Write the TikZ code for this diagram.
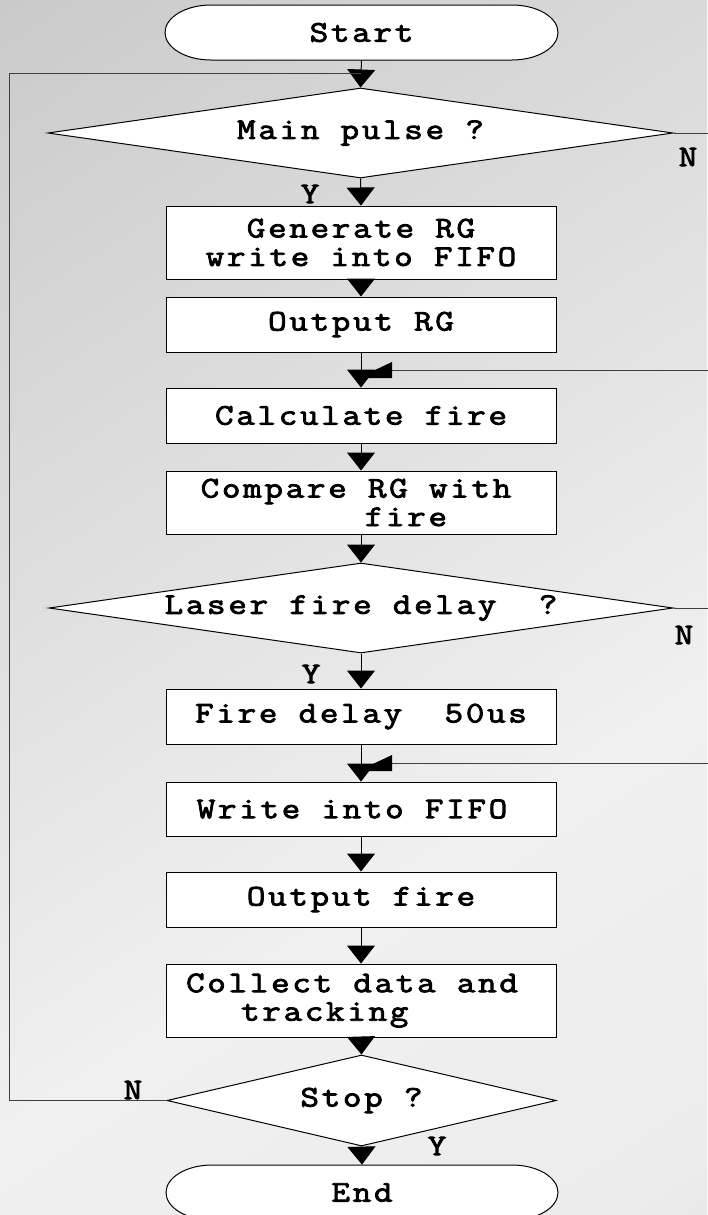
\documentclass[tikz,border=0pt]{standalone}
\usepackage{fontspec}
\usetikzlibrary{shapes.geometric,arrows.meta,calc}
\newfontfamily\fcmono[LetterSpace=9, FakeStretch=1.2, FakeBold=2.8]{Latin Modern Mono}
\definecolor{gA}{HTML}{A8A8A8}
\definecolor{gB}{HTML}{CCCCCC}
\definecolor{gC}{HTML}{F0F0F0}
\definecolor{gD}{HTML}{ECECEC}
\definecolor{gE}{HTML}{B8B8B8}
\pgfdeclareverticalshading{bgsh}{100bp}{color(0bp)=(gE); color(27bp)=(gD); color(41bp)=(gC); color(73bp)=(gB); color(100bp)=(gA)}
\begin{document}
\begin{tikzpicture}[x=0.5pt,y=-0.5pt,
  every node/.style={font=\fcmono\fontsize{15pt}{14.25pt}\selectfont, inner sep=0pt},
  box/.style={rectangle, draw=black, line width=0.5pt, fill=white, minimum width=195pt},
  dec/.style={diamond, draw=black, line width=0.5pt, fill=white, inner sep=0pt},
  term/.style={draw=black, line width=0.5pt, fill=white},
  arr/.style={draw=black, line width=0.5pt, -{Triangle[width=14pt,length=9pt]}},
  loopline/.style={draw=black!75, line width=0.5pt},
  headfill/.style={fill=black}]
\useasboundingbox (0,0) rectangle (707,1215);
\begin{scope}
  \clip (0,0) rectangle (707,1215);
  \begin{scope}[transform canvas={rotate around={32.5:(353.5,607.5)}}]
    \shade[shading=bgsh] (-356.5,-102.5) rectangle (1063.5,1317.5);
  \end{scope}
\end{scope}
% terminals
\coordinate (sc) at (361.5,32.5);
\coordinate (ec) at (362,1192.5);
\path[term] ($(sc)+(-150.5,-27.5)$) -- ($(sc)+(150.5,-27.5)$)
  arc[start angle=-90, end angle=90, x radius=46, y radius=27.5]
  -- ($(sc)+(-150.5,27.5)$)
  arc[start angle=90, end angle=270, x radius=46, y radius=27.5] -- cycle;
\path[term] ($(ec)+(-150,-27.5)$) -- ($(ec)+(150,-27.5)$)
  arc[start angle=-90, end angle=90, x radius=46, y radius=27.5]
  -- ($(ec)+(-150,27.5)$)
  arc[start angle=90, end angle=270, x radius=46, y radius=27.5] -- cycle;
\node[minimum width=196.5pt, minimum height=27.5pt] (start) at (sc) {Start};
\node[minimum width=196pt, minimum height=27.5pt] (end) at (ec) {End};
% process nodes
\node[dec, aspect=7, minimum width=312.5pt, minimum height=45pt] (main) at (360.5,133) {Main pulse ?};
\node[box, minimum height=36.5pt, align=center] (gen) at (361,242.5) {Generate RG\\write into FIFO};
\node[box, minimum height=27.5pt] (outrg) at (361,324.5) {Output RG};
\node[box, minimum height=27.5pt] (calc) at (361,415.5) {Calculate fire};
\node[box, minimum height=31.5pt, align=left] (cmp) at (361,502.5) {Compare RG with\hspace*{5pt}\\\hspace*{82pt}fire};
\node[dec, aspect=7, minimum width=312pt, minimum height=45pt] (laser) at (361,608) {Laser fire delay\ \ ?};
\node[box, minimum height=27.5pt] (fdel) at (361,716.5) {Fire delay\ \ 50us};
\node[box, minimum height=27pt] (wfifo) at (361,809) {Write into FIFO\hspace*{9pt}};
\node[box, minimum height=27.5pt] (outf) at (361,899.5) {Output fire};
\node[box, minimum height=36.5pt, align=left] (coll) at (361,1000.5) {Collect data and\hspace*{9pt}\\\hspace*{27.5pt}tracking};
\node[dec, aspect=4.3, minimum width=194.5pt, minimum height=45.5pt] (stop) at (361.5,1100.5) {Stop ?};
% labels
\node (nmain) at (688,157) {N};
\node (ymain) at (310,194) {Y};
\node (nlaser) at (684,635) {N};
\node (ylaser) at (311,674) {Y};
\node (nstop) at (133,1090) {N};
\node (ystop) at (437,1146) {Y};
% junction coordinates
\coordinate (lt) at (9,73);
\coordinate (j1) at (361,73);
\coordinate (j2) at (361,370);
\coordinate (j3) at (361,763);
\coordinate (r1) at (712,133);
\coordinate (r2) at (712,608);
% main flow
\draw[arr] (start.south) -- (main.north);
\draw[arr] (main.south) -- (gen.north);
\draw[arr] (gen.south) -- (outrg.north);
\draw[arr] (outrg.south) -- (calc.north);
\draw[arr] (calc.south) -- (cmp.north);
\draw[arr] (cmp.south) -- (laser.north);
\draw[arr] (laser.south) -- (fdel.north);
\draw[arr] (fdel.south) -- (wfifo.north);
\draw[arr] (wfifo.south) -- (outf.north);
\draw[arr] (outf.south) -- (coll.north);
\draw[arr] (coll.south) -- (stop.north);
\draw[arr] (stop.south) -- (end.north);
% loops
\draw[loopline] (stop.west) -| (lt) -- (j1);
\draw[loopline] (main.east) -- (r1) |- ($(j2)+(31,0)$);
\fill[headfill] ($(j2)+(31,-8)$) -- ($(j2)+(31,8)$) -- ($(j2)+(-3,8)$) -- cycle;
\draw[loopline] (laser.east) -- (r2) |- ($(j3)+(31,0)$);
\fill[headfill] ($(j3)+(31,-8)$) -- ($(j3)+(31,8)$) -- ($(j3)+(-3,8)$) -- cycle;
\end{tikzpicture}
\end{document}
